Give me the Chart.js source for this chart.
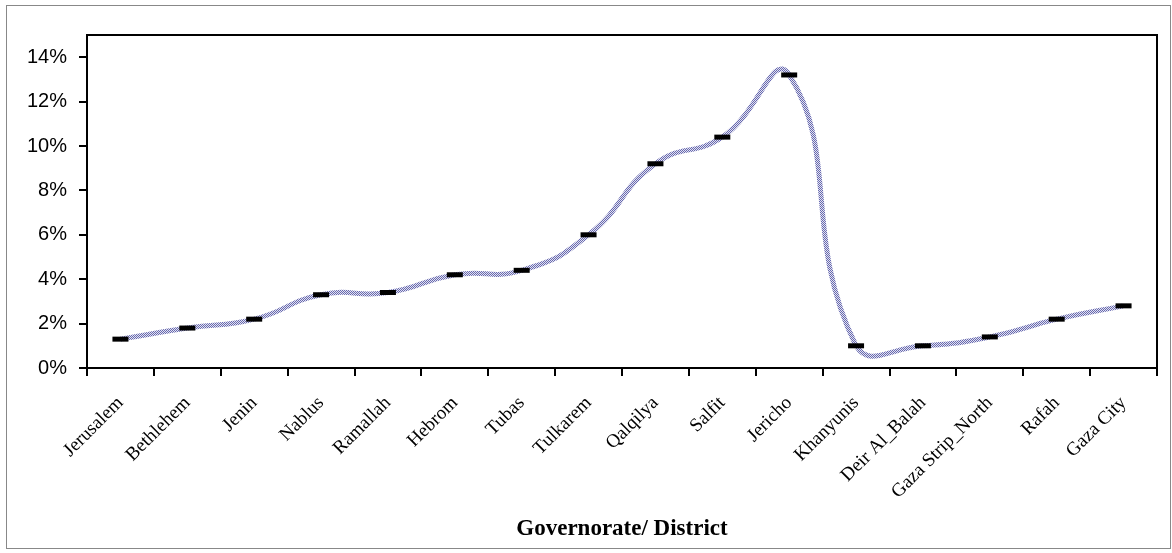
<!DOCTYPE html>
<html>
<head>
<meta charset="utf-8">
<script src="https://cdn.jsdelivr.net/npm/chart.js@4/dist/chart.umd.min.js"></script>
<style>
  body { margin: 0; background: #fff; }
</style>
</head>
<body>
<canvas id="myChart" width="1172" height="553"></canvas>
<script>
var districts = [
    "Jerusalem", "Bethlehem", "Jenin", "Nablus", "Ramallah", "Hebrom", "Tubas",
    "Tulkarem", "Qalqilya", "Salfit", "Jericho", "Khanyunis", "Deir Al_Balah",
    "Gaza Strip_North", "Rafah", "Gaza City"
];
var rates = [1.3, 1.8, 2.2, 3.3, 3.4, 4.2, 4.4, 6.0, 9.2, 10.4, 13.2, 1.0, 1.0, 1.4, 2.2, 2.8];
var yTicks = [0, 2, 4, 6, 8, 10, 12, 14];

// dithered blue/grey line like the original
function linePattern(ctx) {
    var c = document.createElement('canvas');
    c.width = 2; c.height = 2;
    var p = c.getContext('2d');
    p.fillStyle = '#e4e4ee'; p.fillRect(0, 0, 2, 2);
    p.fillStyle = '#6668b2'; p.fillRect(0, 0, 1, 1); p.fillRect(1, 1, 1, 1);
    return ctx.createPattern(c, 'repeat');
}

var frame = {
    id: 'frame',
    afterDraw: function (chart) {
        var c = chart.ctx, a = chart.chartArea;
        c.save();
        c.strokeStyle = '#000';
        c.lineWidth = 2;
        c.strokeRect(a.left, a.top, a.right - a.left, a.bottom - a.top);
        c.strokeStyle = '#888';
        c.lineWidth = 1;
        c.strokeRect(6.5, 5.5, 1164, 543);
        c.restore();
    }
};

var ctx = document.getElementById("myChart");
var myChart = new Chart(ctx, {
    type: 'line',
    data: {
        labels: districts,
        datasets: [{
            data: rates,
            borderColor: linePattern(ctx.getContext('2d')),
            borderWidth: 5,
            tension: 0.5,
            pointStyle: 'line',
            pointRadius: 8,
            pointHoverRadius: 8,
            pointBorderWidth: 5,
            pointBorderColor: '#000',
            pointBackgroundColor: '#000'
        }]
    },
    options: {
        responsive: false,
        animation: false,
        devicePixelRatio: 1,
        layout: { padding: { top: 35, right: 15, left: 0, bottom: 10 } },
        plugins: { legend: { display: false }, tooltip: { enabled: false } },
        scales: {
            x: {
                offset: true,
                grid: { display: true, drawOnChartArea: false, offset: true, color: '#000', lineWidth: 2, tickLength: 8 },
                border: { display: false },
                ticks: {
                    minRotation: 45, maxRotation: 45, autoSkip: false, color: '#000', padding: 16,
                    font: { family: "'Liberation Serif', 'Times New Roman', serif", size: 19 }
                },
                title: {
                    display: true, text: 'Governorate/ District', color: '#000',
                    font: { family: "'Liberation Serif', 'Times New Roman', serif", size: 23, weight: 'bold' },
                    padding: { top: 0, bottom: 0 }
                },
                afterFit: function (s) { s.height = 553 - 10 - 368; }
            },
            y: {
                min: 0, max: 15,
                afterBuildTicks: function (s) { s.ticks = yTicks.map(function (v) { return { value: v }; }); },
                grid: { display: true, drawOnChartArea: false, color: '#000', lineWidth: 2, tickLength: 8 },
                border: { display: false },
                ticks: {
                    color: '#000', padding: 12,
                    font: { family: "'Liberation Sans', Arial, sans-serif", size: 20 },
                    callback: function (v) { return v + '%'; }
                },
                afterFit: function (s) { s.width = 87; }
            }
        }
    },
    plugins: [frame]
});
</script>
</body>
</html>
